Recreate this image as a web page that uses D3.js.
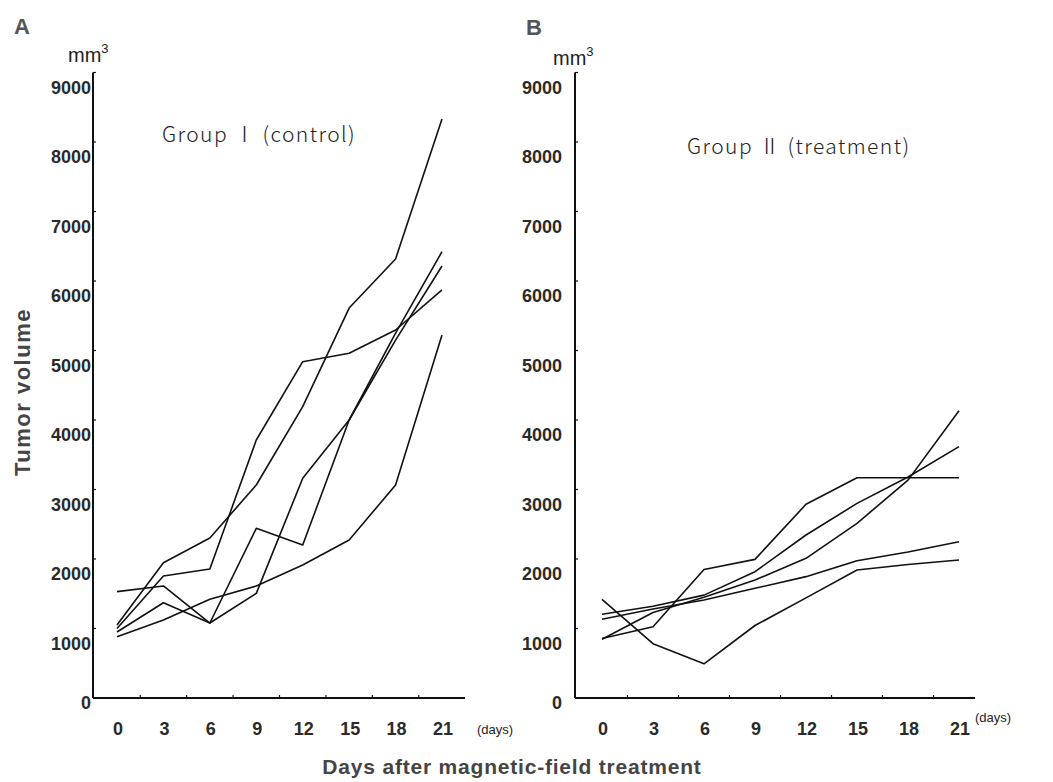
<!DOCTYPE html>
<html>
<head>
<meta charset="utf-8">
<script src="https://cdn.jsdelivr.net/npm/d3@7"></script>
<style>
  body { margin: 0; background: #fff; }
  svg { display: block; }
  .tick-num { font-family: "Liberation Sans", Arial, sans-serif; font-weight: bold; font-size: 18px; fill: #2a2a2a; }
  .thin { font-family: "Noto Sans CJK JP", "DejaVu Sans", sans-serif; font-weight: 300; fill: #222; }
</style>
</head>
<body>
<svg id="chart" width="1053" height="782"></svg>
<script>
// days on the x axis
const days = [0, 3, 6, 9, 12, 15, 18, 21];
const yTickValues = [0, 1000, 2000, 3000, 4000, 5000, 6000, 7000, 8000, 9000];
const xMinorTicks = [1.5, 4.5, 7.5, 10.5, 13.5, 16.5, 19.5];

// Group I (control), tumor volume mm3 per mouse
const control1 = [1050, 1947, 2302, 3065, 4192, 5611, 6317, 8330];
const control2 = [1000, 1755, 1856, 3712, 4839, 4960, 5295, 5871];
const control3 = [1530, 1612, 1079, 2441, 2201, 4000, 5250, 6422];
const control4 = [950, 1371, 1079, 1506, 3161, 4000, 5150, 6216];
const control5 = [882, 1122, 1420, 1612, 1914, 2273, 3065, 5223];

// Group II (treatment)
const treat1 = [855, 1026, 1850, 1995, 2787, 3170, 3170, 3170];
const treat2 = [1420, 781, 492, 1043, 1440, 1842, 1920, 1986];
const treat3 = [845, 1230, 1450, 1698, 2010, 2513, 3135, 4134];
const treat4 = [1204, 1320, 1480, 1818, 2345, 2800, 3180, 3617];
const treat5 = [1132, 1280, 1410, 1578, 1746, 1976, 2100, 2247];

const svg = d3.select("#chart");

const y = d3.scaleLinear().domain([0, 9000]).range([698, 72.5]);

const panels = [
    {
        letter: "A", letterX: 14, letterY: 34,
        axisX: 93, axisEnd: 465, x0: 117, x1: 442,
        labelRight: 91, mmX: 68, mmY: 62,
        title: "Group \u2160 (control)", titleX: 162, titleY: 142,
        daysX: 477, daysY: 734,
        series: [control1, control2, control3, control4, control5]
    },
    {
        letter: "B", letterX: 526, letterY: 35,
        axisX: 575, axisEnd: 975, x0: 602, x1: 959,
        labelRight: 562, mmX: 553, mmY: 65,
        title: "Group \u2161 (treatment)", titleX: 687, titleY: 154,
        daysX: 975, daysY: 722,
        series: [treat1, treat2, treat3, treat4, treat5]
    }
];

panels.forEach(p => {
    const x = d3.scaleLinear().domain([0, 21]).range([p.x0, p.x1]);
    const g = svg.append("g");

    // panel letter
    g.append("text")
        .attr("x", p.letterX).attr("y", p.letterY)
        .attr("font-family", "Liberation Sans, Arial, sans-serif")
        .attr("font-weight", "bold").attr("font-size", 22)
        .attr("fill", "#555")
        .text(p.letter);

    // unit
    const mm = g.append("text")
        .attr("x", p.mmX).attr("y", p.mmY)
        .attr("font-family", "Liberation Sans, Arial, sans-serif")
        .attr("font-size", 20).attr("fill", "#222");
    mm.append("tspan").text("mm");
    mm.append("tspan").attr("dy", -9).attr("font-size", 13).text("3");

    // y axis line + small inner ticks
    g.append("line")
        .attr("x1", p.axisX).attr("x2", p.axisX)
        .attr("y1", y(9000)).attr("y2", y(0))
        .attr("stroke", "#111").attr("stroke-width", 2);
    g.selectAll(".ytick")
        .data(yTickValues)
        .join("line")
        .attr("x1", p.axisX).attr("x2", p.axisX + 3)
        .attr("y1", d => y(d)).attr("y2", d => y(d))
        .attr("stroke", "#111").attr("stroke-width", 1.2);
    g.selectAll(".ylab")
        .data(yTickValues)
        .join("text")
        .attr("class", "tick-num")
        .attr("text-anchor", "end")
        .attr("x", p.labelRight)
        .attr("y", d => y(d) + (d === 0 ? 11 : 21))
        .text(d => d);

    // x axis line + minor ticks between the days
    g.append("line")
        .attr("x1", p.axisX).attr("x2", p.axisEnd)
        .attr("y1", y(0)).attr("y2", y(0))
        .attr("stroke", "#111").attr("stroke-width", 2);
    g.selectAll(".xtick")
        .data(xMinorTicks)
        .join("line")
        .attr("x1", d => x(d)).attr("x2", d => x(d))
        .attr("y1", y(0)).attr("y2", y(0) - 3)
        .attr("stroke", "#111").attr("stroke-width", 1.2);
    g.selectAll(".xlab")
        .data(days)
        .join("text")
        .attr("class", "tick-num")
        .attr("text-anchor", "middle")
        .attr("x", d => x(d) + 1)
        .attr("y", 735)
        .text(d => d);

    g.append("text")
        .attr("x", p.daysX).attr("y", p.daysY)
        .attr("font-family", "Liberation Sans, Arial, sans-serif")
        .attr("font-size", 13).attr("fill", "#222")
        .text("(days)");

    // group title
    g.append("text")
        .attr("class", "thin")
        .attr("x", p.titleX).attr("y", p.titleY)
        .attr("font-size", 21)
        .attr("letter-spacing", 1.4)
        .text(p.title);

    // one line per mouse
    const line = d3.line()
        .x((d, i) => x(days[i]))
        .y(d => y(d));
    g.selectAll(".series")
        .data(p.series)
        .join("path")
        .attr("d", line)
        .attr("fill", "none")
        .attr("stroke", "#111")
        .attr("stroke-width", 1.6)
        .attr("stroke-linejoin", "round");
});

// shared axis titles
svg.append("text")
    .attr("x", 512).attr("y", 774)
    .attr("text-anchor", "middle")
    .attr("font-family", "Liberation Sans, Arial, sans-serif")
    .attr("font-weight", "bold").attr("font-size", 21)
    .attr("letter-spacing", 0.8)
    .attr("fill", "#444")
    .text("Days after magnetic-field treatment");

svg.append("text")
    .attr("transform", "translate(30,392) rotate(-90)")
    .attr("text-anchor", "middle")
    .attr("font-family", "Liberation Sans, Arial, sans-serif")
    .attr("font-weight", "bold").attr("font-size", 22)
    .attr("letter-spacing", 1.5)
    .attr("fill", "#444")
    .text("Tumor volume");
</script>
</body>
</html>
